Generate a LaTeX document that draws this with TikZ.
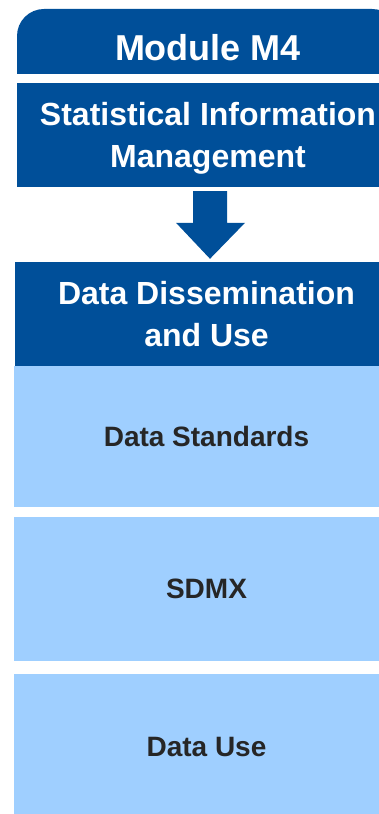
\documentclass[tikz,border=0pt]{standalone}
\usepackage{fontspec}
\setmainfont{Liberation Sans}
\usetikzlibrary{calc}
\definecolor{dkblue}{RGB}{0,79,153}
\definecolor{ltblue}{RGB}{159,207,255}
\definecolor{txtgray}{RGB}{38,38,38}
\tikzset{
  darkbox/.style = {
    fill=dkblue, text=white, align=center, inner sep=0pt,
    font=\bfseries\fontsize{32}{42}\selectfont
  },
  lightbox/.style = {
    fill=ltblue, text=txtgray, inner sep=0pt,
    font=\bfseries\fontsize{28}{34}\selectfont
  },
  blockarrow/.style = {fill=dkblue}
}

\begin{document}
\begin{tikzpicture}[x=1pt,y=1pt]
  \useasboundingbox (0,0) rectangle (379,814);
  \clip (0,0) rectangle (379,814);
  % header, round on top
  \fill[dkblue,rounded corners=27pt] (17,740) rectangle (399,805);
  \fill[dkblue] (17,740) rectangle (399,775);
  \node[text=white,font=\bfseries\fontsize{36}{42}\selectfont,anchor=base]
    (mod) at (208,753) {Module M4};
  \node[darkbox,text depth=0pt,minimum width=382pt,minimum height=104pt] (sim) at (208,679)
    {Statistical Information\\Management};
  \node[darkbox,minimum width=383pt,minimum height=104pt] (ddu) at (206.5,500)
    {Data Dissemination\\and Use};
  \node[lightbox,minimum width=385pt,minimum height=141pt] (std) at (206.5,377.5)
    {Data Standards};
  \node[lightbox,minimum width=385pt,minimum height=144pt] (sdmx) at (206.5,225)
    {SDMX};
  \node[lightbox,minimum width=385pt,minimum height=146pt] (use) at (206.5,67)
    {Data Use};
  % arrow
  \coordinate (atop) at ([xshift=2pt,yshift=-4pt]sim.south);
  \coordinate (atip) at ($(atop |- ddu.north)+(0,3)$);
  \fill[blockarrow] ([xshift=-17pt]atop) -- ([xshift=17pt]atop)
    -- ([xshift=17pt,yshift=36pt]atip) -- ([xshift=35pt,yshift=36pt]atip)
    -- (atip) -- ([xshift=-34pt,yshift=36pt]atip)
    -- ([xshift=-17pt,yshift=36pt]atip) -- cycle;
\end{tikzpicture}
\end{document}
